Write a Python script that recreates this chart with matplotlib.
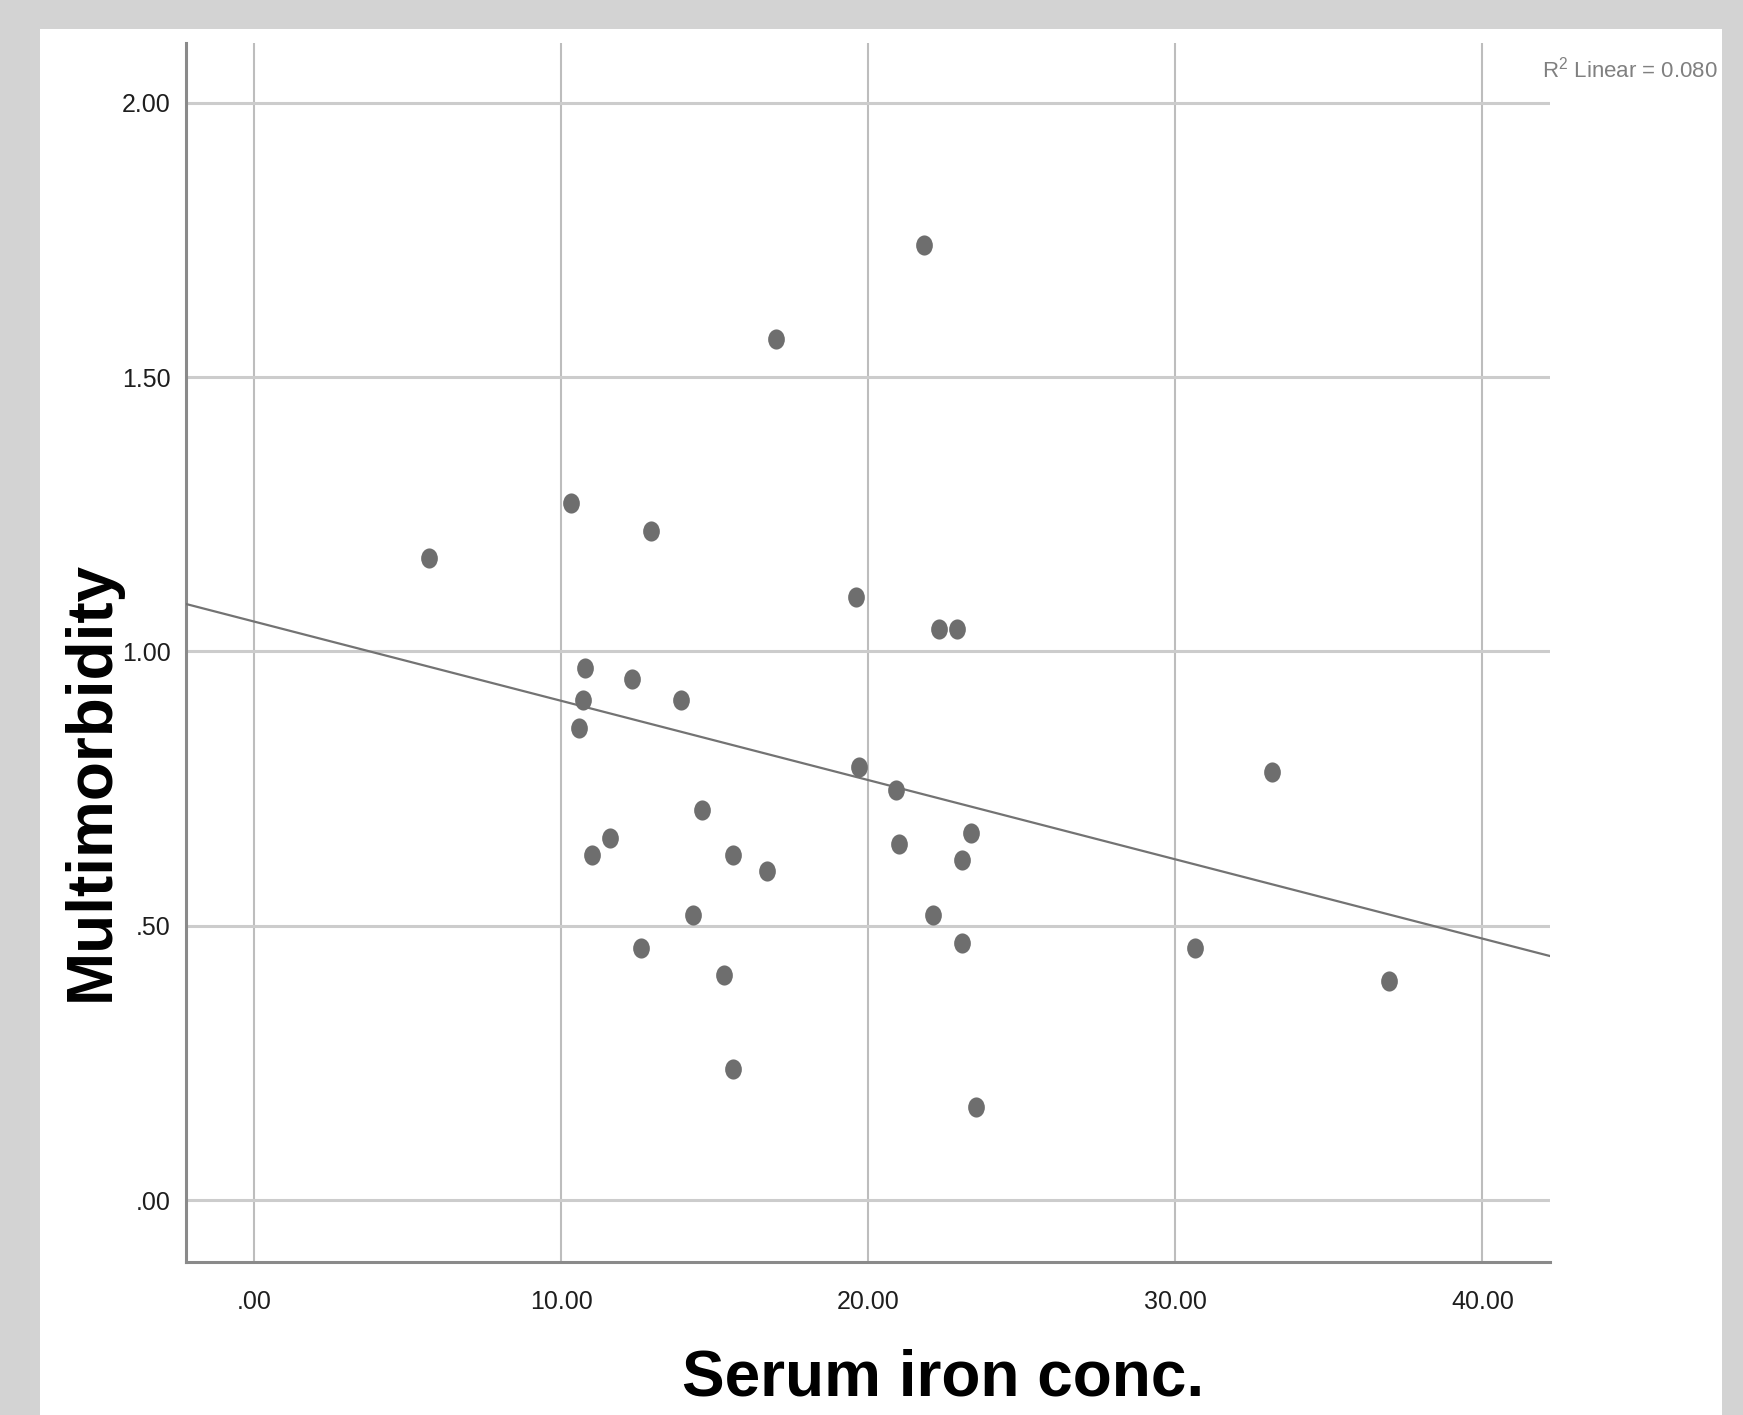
from matplotlib import pyplot as plt
from matplotlib.patches import Rectangle
from matplotlib.path import Path


iron = [5.70, 10.31, 12.92, 16.99, 21.82, 19.60, 22.32, 22.90, 10.78, 12.30,
        10.71, 13.90, 10.60, 19.71, 20.91, 33.14, 14.59, 11.58, 11.00, 15.61,
        16.70, 21.02, 23.34, 23.05, 14.30, 22.10, 12.60, 23.05, 30.64, 15.32,
        36.95, 15.61, 23.52]
multimorbidity = [1.170, 1.270, 1.219, 1.570, 1.740, 1.099, 1.041, 1.041, 0.970, 0.949,
                  0.911, 0.911, 0.860, 0.789, 0.748, 0.781, 0.710, 0.659, 0.629, 0.629,
                  0.600, 0.649, 0.669, 0.619, 0.519, 0.519, 0.460, 0.469, 0.460, 0.410,
                  0.400, 0.239, 0.170]

# fit line as drawn in the original (R2 linear = 0.080)
fit_intercept = 1.0545
fit_slope = -0.01445
r2_text = r'R$^2$ Linear = 0.080'

x_ticks = [0, 10, 20, 30, 40]
x_tick_labels = ['.00', '10.00', '20.00', '30.00', '40.00']
y_ticks = [0, 0.5, 1.0, 1.5, 2.0]
y_tick_labels = ['.00', '.50', '1.00', '1.50', '2.00']

W, H = 1743, 1415
FONT = 'Liberation Sans'

plt.rcParams['font.family'] = FONT
plt.rcParams['mathtext.fontset'] = 'custom'
plt.rcParams['mathtext.rm'] = FONT


def px(x, y):
   'figure pixel (from top-left) to figure fraction'
   return x / W, 1 - y / H


def oval_marker():
   circ = Path.unit_circle()
   return Path(circ.vertices * [0.83, 1.0], circ.codes)


def plot_chart():
   fig = plt.figure(figsize=(W / 100, H / 100), dpi=100, facecolor='#d3d3d3')
   x0, y0 = px(40, H)
   x1, y1 = px(1722, 29)
   fig.add_artist(Rectangle((x0, y0), x1 - x0, y1 - y0, transform=fig.transFigure,
                            facecolor='white', edgecolor='none', zorder=0))

   left, top = px(185.7, 43)
   right, bottom = px(1550, 1262)
   ax = fig.add_axes([left, bottom, right - left, top - bottom])
   ax.set_facecolor('white')

   ax.set_xlim(-2.22, 42.2)
   ax.set_ylim(-0.113, 2.109)

   ax.set_xticks(x_ticks)
   ax.set_xticklabels(x_tick_labels, fontsize=18, color='#1e1e1e')
   ax.set_yticks(y_ticks)
   ax.set_yticklabels(y_tick_labels, fontsize=18, color='#1e1e1e')
   ax.tick_params(axis='x', length=0, pad=20)
   ax.tick_params(axis='y', length=0, pad=11)

   ax.grid(axis='y', color='#cccccc', linewidth=2.2, zorder=1)
   ax.grid(axis='x', color='#bdbdbd', linewidth=1.5, zorder=1)
   ax.set_axisbelow(True)

   for side in ['top', 'right']:
      ax.spines[side].set_visible(False)
   for side in ['left', 'bottom']:
      ax.spines[side].set_color('#8a8a8a')
      ax.spines[side].set_linewidth(2.2)

   xs = [ax.get_xlim()[0], ax.get_xlim()[1]]
   ys = [fit_intercept + fit_slope * v for v in xs]
   ax.plot(xs, ys, color='#737373', linewidth=1.6, zorder=3)

   ax.plot(iron, multimorbidity, linestyle='none', marker=oval_marker(),
           markersize=14.5, color='#6e6e6e', markeredgewidth=0, zorder=4)

   ax.set_xlabel('Serum iron conc.', fontsize=46, fontweight='bold', va='center')
   ax.xaxis.set_label_coords(0.555, -0.0952)
   ax.set_ylabel('Multimorbidity', fontsize=46, fontweight='bold',
                 va='center', ha='center')
   ax.yaxis.set_label_coords(-0.0687, 0.3946)

   tx, ty = px(1718, 70)
   fig.text(tx, ty, r2_text, ha='right', va='center', fontsize=16, color='#808080')

   fig.savefig('out.png', dpi=100, facecolor=fig.get_facecolor())


def main():
   plot_chart()


if __name__ == "__main__":
   main()
